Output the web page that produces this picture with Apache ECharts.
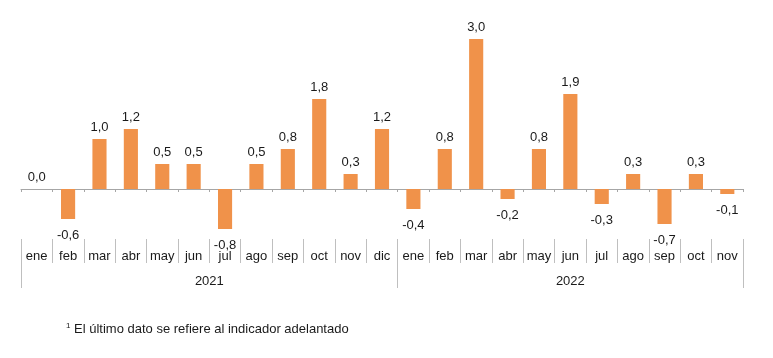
<!DOCTYPE html>
<html><head><meta charset="utf-8">
<script src="https://cdn.jsdelivr.net/npm/echarts@6/dist/echarts.min.js"></script>
<style>html,body{margin:0;padding:0;background:#fff}#c{width:773px;height:358px}</style>
</head><body><div id="c"></div>
<script>
const months = ["ene","feb","mar","abr","may","jun","jul","ago","sep","oct","nov","dic",
                "ene","feb","mar","abr","may","jun","jul","ago","sep","oct","nov"];
const values = [0.0,-0.6,1.0,1.2,0.5,0.5,-0.8,0.5,0.8,1.8,0.3,1.2,
                -0.4,0.8,3.0,-0.2,0.8,1.9,-0.3,0.3,-0.7,0.3,-0.1];
const years = ["2021","2022"];
const yearBounds = [0,12,23];
const yearCenters = [6,17.5];
const footnote = "El último dato se refiere al indicador adelantado";

const chart = echarts.init(document.getElementById('c'));
const font = 'Arial, "Liberation Sans", sans-serif';
chart.setOption({
  animation:false,
  grid:{left:21,right:30,top:29,bottom:119},
  title:{text:'{s|1} '+footnote,left:61,top:317,
    textStyle:{fontFamily:font,fontSize:13,fontWeight:'normal',color:'#1a1a1a',
      rich:{s:{fontSize:8,verticalAlign:'top',padding:[0,0,6,0],fontFamily:font,color:'#1a1a1a'}}}},
  xAxis:[
    {type:'category',data:months,position:'bottom',
     axisLine:{show:true,onZero:true,lineStyle:{color:'#a6a6a6',width:1}},
     axisTick:{show:true,interval:0,length:3,lineStyle:{color:'#a6a6a6'}},
     axisLabel:{show:false},splitLine:{show:false}},
    {type:'category',data:months,position:'bottom',gridIndex:0,
     axisLine:{show:false,onZero:false},
     axisTick:{show:true,interval:0,length:24,lineStyle:{color:'#bfbfbf'}},
     axisLabel:{show:true,interval:0,margin:11,fontFamily:font,fontSize:13,color:'#1a1a1a'}},
    {type:'value',min:0,max:23,position:'bottom',
     axisLine:{show:false,onZero:false},
     axisTick:{show:true,customValues:yearBounds,length:49,lineStyle:{color:'#bfbfbf'}},
     axisLabel:{show:true,customValues:yearCenters,margin:36,fontFamily:font,fontSize:13,color:'#1a1a1a',
       formatter:(v)=>years[yearCenters.indexOf(v)]},
     splitLine:{show:false}}
  ],
  yAxis:{type:'value',min:-1,max:3.2,show:false,splitLine:{show:false}},
  series:[{
    type:'bar',xAxisIndex:0,barWidth:'45%',
    data:values.map(v=>({value:v,label:v<0?{position:'bottom',distance:10}:{position:'top',distance:5}})),
    itemStyle:{color:'#f0924a'},
    label:{show:true,fontFamily:font,fontSize:13,color:'#1a1a1a',
      formatter:(p)=>p.value.toFixed(1).replace('.',',')}
  }]
});
</script></body></html>
